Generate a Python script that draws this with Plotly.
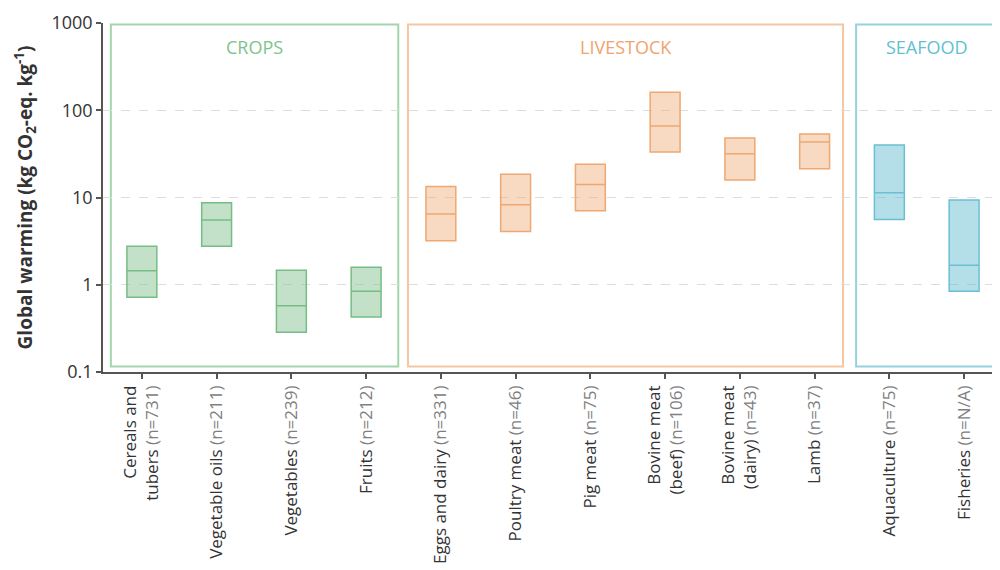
import plotly.graph_objects as go

# ---- data ----
crop_names = ["Cereals and<br>tubers", "Vegetable oils", "Vegetables", "Fruits"]
crop_n = ["731", "211", "239", "212"]
crop_q1 = [0.72, 2.76, 0.285, 0.427]
crop_med = [1.445, 5.52, 0.576, 0.845]
crop_q3 = [2.76, 8.7, 1.47, 1.59]

live_names = ["Eggs and dairy", "Poultry meat", "Pig meat", "Bovine meat<br>(beef)",
              "Bovine meat<br>(dairy)", "Lamb"]
live_n = ["331", "46", "75", "106", "43", "37"]
live_q1 = [3.2, 4.09, 7.05, 33.2, 15.9, 21.4]
live_med = [6.46, 8.25, 14.1, 65.8, 31.8, 43.2]
live_q3 = [13.4, 18.5, 24.1, 161, 48, 53.3]

sea_names = ["Aquaculture", "Fisheries"]
sea_n = ["75", "N/A"]
sea_q1 = [5.6, 0.845]
sea_med = [11.3, 1.67]
sea_q3 = [40, 9.34]

y_ticks = [0.1, 1, 10, 100, 1000]
y_ticktext = ["0.1", "1", "10", "100", "1000"]

groups = [
    ("CROPS", crop_names, crop_n, crop_q1, crop_med, crop_q3,
     "#7dc48b", "#a3d6ad", "rgba(133,196,146,0.5)", "#76bd85"),
    ("LIVESTOCK", live_names, live_n, live_q1, live_med, live_q3,
     "#eea46c", "#f5c6a3", "rgba(239,170,120,0.45)", "#eea872"),
    ("SEAFOOD", sea_names, sea_n, sea_q1, sea_med, sea_q3,
     "#5fc0d2", "#93d2de", "rgba(108,192,210,0.5)", "#6ac0d2"),
]

fig = go.Figure()
all_labels = []
pos = 0
frame_spans = []
for (gname, names, ns, q1, med, q3, tcol, fcol, fill, lcol) in groups:
    xs = list(range(pos, pos + len(names)))
    fig.add_trace(go.Box(
        x=xs, q1=q1, median=med, q3=q3, lowerfence=q1, upperfence=q3,
        width=0.4, fillcolor=fill, line=dict(color=lcol, width=1.5),
        whiskerwidth=0, boxpoints=False, showlegend=False, hoverinfo="skip",
    ))
    for nm, n in zip(names, ns):
        all_labels.append(f"{nm} <span style='color:#808080'>(n={n})</span>")
    frame_spans.append((gname, xs[0], xs[-1], tcol, fcol))
    pos += len(names)

# frame rectangles and titles
frame_bounds = {"CROPS": (-0.415, 3.43), "LIVESTOCK": (3.56, 9.38), "SEAFOOD": (9.555, 11.46)}
for gname, x0i, x1i, tcol, fcol in frame_spans:
    x0, x1 = frame_bounds[gname]
    fig.add_shape(type="rect", xref="x", yref="paper", x0=x0, x1=x1, y0=0.016, y1=0.996,
                  line=dict(color=fcol, width=2), fillcolor="rgba(0,0,0,0)", layer="below")
    fig.add_annotation(x=(x0 + x1) / 2, y=0.93, xref="x", yref="paper", text=gname,
                       yanchor="middle", xanchor="center",
                       showarrow=False, font=dict(family="Open Sans", size=18, color=tcol))

fig.update_layout(
    width=992, height=555,
    margin=dict(l=95, r=0, t=15, b=191),
    plot_bgcolor="white", paper_bgcolor="white",
    font=dict(family="Open Sans", color="#333333"),
    xaxis=dict(
        range=[-0.52, 11.48], tickmode="array", tickvals=list(range(len(all_labels))),
        ticktext=all_labels, tickangle=-90, tickfont=dict(size=17, color="#333333"),
        showgrid=False, zeroline=False, showline=True, linecolor="#555555", linewidth=1.5,
        ticks="outside", ticklen=5, tickcolor="#555555", tickwidth=1.5, automargin=False,
    ),
    yaxis=dict(
        type="log", range=[-1, 3], tickmode="array", tickvals=y_ticks, ticktext=y_ticktext,
        tickfont=dict(size=18, color="#333333"), automargin=False,
        showgrid=True, gridcolor="#dddddd", griddash="dash", gridwidth=1,
        zeroline=False, showline=True, linecolor="#555555", linewidth=1.5,
        ticks="outside", ticklen=5, tickcolor="#555555", tickwidth=1.5,
        title=dict(text="<b>Global warming (kg CO<sub>2</sub>-eq. kg<sup>-1</sup>)</b>",
                   font=dict(size=19, color="#333333"), standoff=14),
    ),
)

fig.write_html("out.html")
